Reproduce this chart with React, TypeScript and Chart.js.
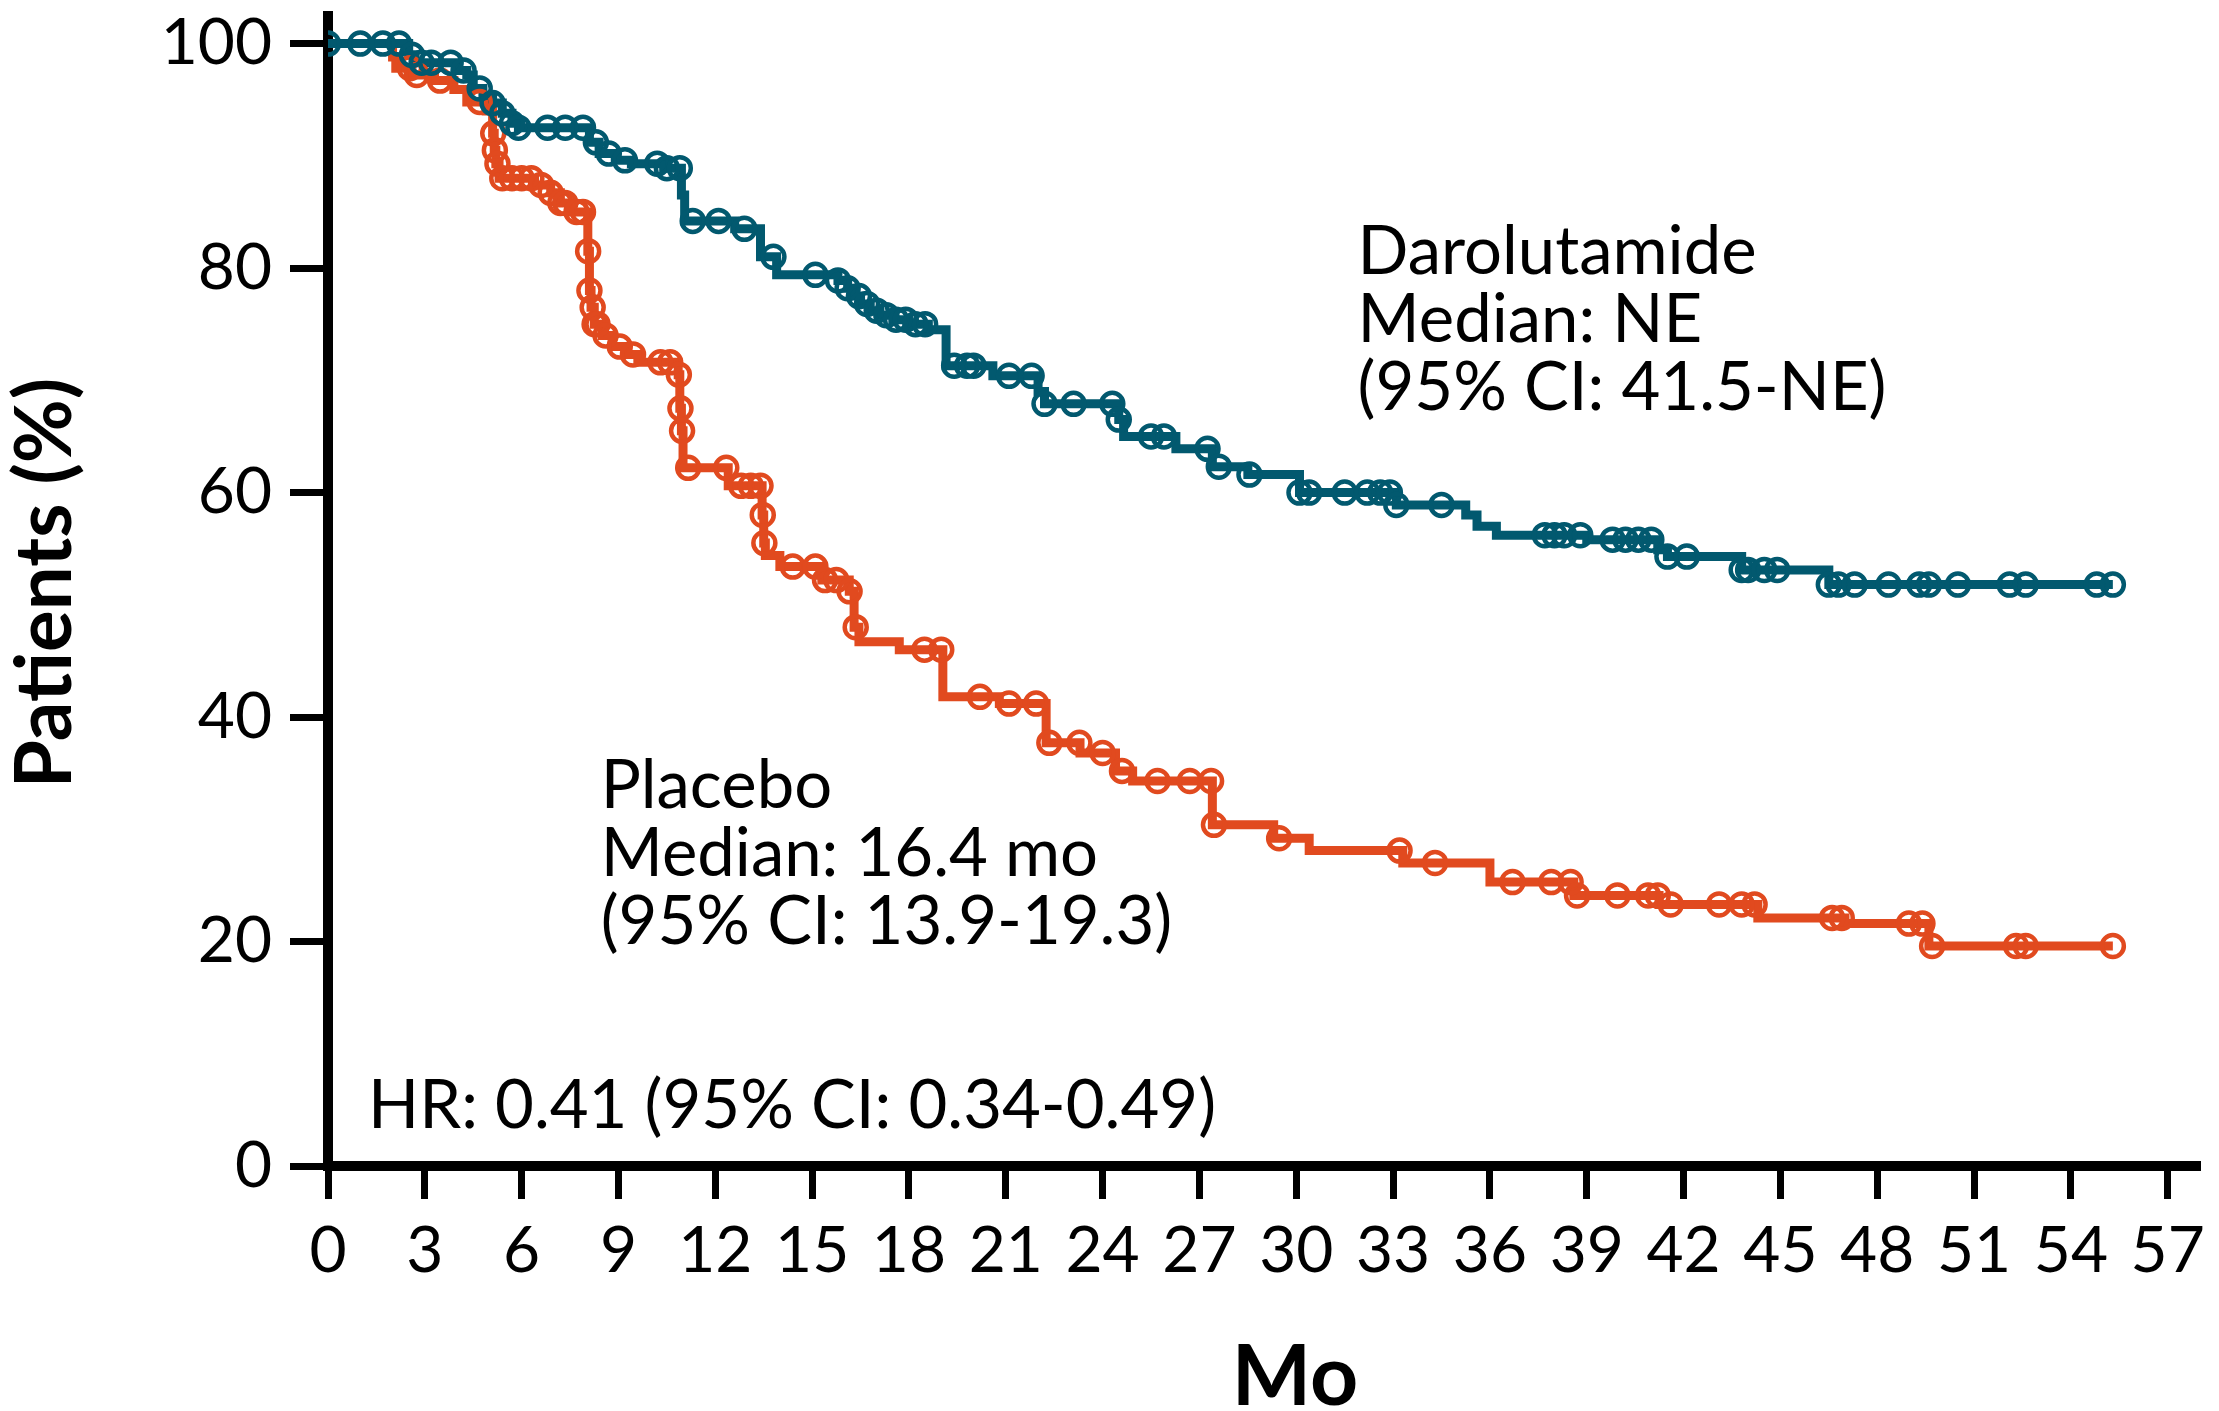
import React, { useEffect, useRef } from 'react';
import { Chart, registerables } from 'chart.js';

Chart.register(...registerables);

// ---------- data (months, % event-free) ----------
const xTickValues = [0, 3, 6, 9, 12, 15, 18, 21, 24, 27, 30, 33, 36, 39, 42, 45, 48, 51, 54, 57];
const yTickValues = [0, 20, 40, 60, 80, 100];

const daroTimes = [0, 2.5, 2.7, 4.0, 4.3, 4.5, 4.8, 5.1, 5.4, 5.7, 5.9, 8.1, 8.4, 8.9, 9.4, 10.4, 10.95, 11.05, 12.6, 13.4, 13.9, 15.8, 16.1, 16.3, 16.5, 16.8, 17.1, 17.5, 18.0, 18.6, 19.15, 20.6, 22.0, 22.2, 24.5, 24.65, 26.27, 27.4, 28.5, 30.1, 33.1, 35.25, 35.6, 36.2, 39.0, 41.2, 41.5, 43.8, 46.5, 55.3];
const daroSurv = [100, 99.0, 98.3, 97.6, 97.2, 96.0, 95.4, 94.7, 93.8, 92.9, 92.5, 91.2, 90.2, 89.6, 89.3, 88.9, 86.5, 84.2, 83.5, 81.0, 79.4, 78.9, 78.2, 77.5, 76.8, 76.2, 75.8, 75.4, 75.0, 74.5, 71.3, 70.4, 69.0, 67.9, 66.5, 65.0, 63.9, 62.3, 61.6, 60.0, 58.9, 58.0, 57.0, 56.2, 55.8, 54.9, 54.3, 53.1, 51.8, 51.8];
const daroCensor = [0, 1.0, 1.7, 2.2, 2.6, 2.9, 3.2, 3.8, 4.2, 4.7, 5.1, 5.4, 5.7, 5.9, 6.8, 7.35, 7.9, 8.3, 8.7, 9.2, 10.2, 10.5, 10.9, 11.3, 12.1, 12.9, 13.8, 15.1, 15.8, 16.1, 16.45, 16.7, 17.0, 17.3, 17.6, 17.9, 18.2, 18.5, 19.4, 19.8, 20.0, 21.1, 21.8, 22.2, 23.1, 24.3, 24.5, 25.5, 25.9, 27.25, 27.6, 28.55, 30.1, 30.4, 31.5, 32.2, 32.6, 32.9, 33.1, 34.5, 37.7, 38.0, 38.3, 38.8, 39.8, 40.2, 40.6, 41.0, 41.5, 42.1, 43.8, 44.0, 44.5, 44.9, 46.5, 46.8, 47.3, 48.35, 49.3, 49.6, 50.5, 52.1, 52.6, 54.8, 55.3];

const placTimes = [0, 2.0, 2.1, 2.6, 3.3, 3.9, 4.3, 4.9, 5.1, 5.15, 5.2, 5.3, 6.4, 6.9, 7.2, 7.5, 8.05, 8.1, 8.15, 8.25, 8.5, 8.8, 9.2, 9.6, 10.85, 10.9, 10.95, 11.0, 12.4, 13.45, 13.5, 13.55, 14.0, 15.3, 16.15, 16.3, 16.45, 17.7, 19.05, 20.8, 22.25, 23.3, 24.4, 24.93, 27.4, 29.3, 30.4, 33.3, 36.0, 38.6, 41.24, 44.3, 47.0, 49.6, 55.3];
const placSurv = [100, 98.8, 97.8, 97.2, 96.7, 95.9, 94.8, 94.0, 92.0, 90.5, 89.3, 88.0, 87.4, 86.7, 85.8, 85.0, 81.5, 78.0, 76.5, 75.0, 74.0, 73.0, 72.3, 71.6, 70.5, 67.5, 65.5, 62.2, 60.6, 58.0, 55.5, 54.4, 53.4, 52.2, 51.2, 48.0, 46.7, 46.0, 41.8, 41.2, 37.7, 36.8, 35.2, 34.3, 30.4, 29.2, 28.1, 27.0, 25.3, 24.1, 23.3, 22.1, 21.6, 19.6, 19.6];
const placCensor = [2.54, 2.75, 3.47, 4.7, 5.12, 5.17, 5.25, 5.4, 5.7, 6.0, 6.3, 6.6, 6.9, 7.2, 7.35, 7.7, 7.9, 8.06, 8.1, 8.2, 8.26, 8.35, 8.6, 9.04, 9.45, 10.3, 10.6, 10.87, 10.92, 10.97, 11.16, 12.34, 12.8, 13.1, 13.4, 13.47, 13.52, 14.4, 15.1, 15.4, 15.75, 16.16, 16.35, 18.48, 19.0, 20.2, 21.1, 21.94, 22.35, 23.28, 24.0, 24.6, 25.7, 26.7, 27.36, 27.45, 29.47, 33.2, 34.3, 36.7, 37.9, 38.5, 38.7, 39.95, 40.9, 41.2, 41.6, 43.1, 43.8, 44.2, 46.6, 46.9, 48.98, 49.4, 49.7, 52.3, 52.6, 55.3];

const daroLabel = ['Darolutamide', 'Median: NE', '(95% CI: 41.5-NE)'];
const placLabel = ['Placebo', 'Median: 16.4 mo', '(95% CI: 13.9-19.3)'];
const hrLabel = 'HR: 0.41 (95% CI: 0.34-0.49)';
const xTitle = 'Mo';
const yTitle = 'Patients (%)';

const TEAL = '#02596F';
const ORANGE = '#E14A1F';
const FONT = 'Lato, "Open Sans", sans-serif';

function survivalAt(times: number[], surv: number[], t: number): number {
  let v = surv[0];
  for (let i = 0; i < times.length; i++) {
    if (times[i] <= t + 1e-9) v = surv[i];
    else break;
  }
  return v;
}

const stepPoints = (times: number[], surv: number[]) => times.map((t, i) => ({ x: t, y: surv[i] }));
const censorPoints = (c: number[], times: number[], surv: number[]) =>
  c.map((t) => ({ x: t, y: survivalAt(times, surv, t) }));

const textPlugin = {
  id: 'kmText',
  afterDraw(chart: any) {
    const { ctx, scales } = chart;
    const xs = scales.x;
    const ys = scales.y;
    ctx.save();
    ctx.fillStyle = '#000';
    ctx.textBaseline = 'alphabetic';
    ctx.textAlign = 'left';
    ctx.font = `67px ${FONT}`;
    const lineGap = 68;
    const dx = xs.getPixelForValue(31.9);
    const dy = ys.getPixelForValue(79.5);
    daroLabel.forEach((s, i) => ctx.fillText(s, dx, dy + i * lineGap));
    const px = xs.getPixelForValue(8.45);
    const py = ys.getPixelForValue(31.9);
    placLabel.forEach((s, i) => ctx.fillText(s, px, py + i * lineGap));
    ctx.fillText(hrLabel, xs.getPixelForValue(1.24), ys.getPixelForValue(3.4));

    ctx.font = `bold 84px ${FONT}`;
    ctx.textAlign = 'center';
    ctx.fillText(xTitle, 1295, 1405);

    ctx.translate(71, 583);
    ctx.rotate(-Math.PI / 2);
    ctx.font = `bold 78px ${FONT}`;
    ctx.textAlign = 'center';
    ctx.fillText(yTitle, 0, 0);
    ctx.restore();
  },
};

export default function App() {
  const ref = useRef<HTMLCanvasElement>(null);

  useEffect(() => {
    const canvas = ref.current;
    if (!canvas) return;
    const chart = new Chart(canvas, {
      type: 'line',
      data: {
        datasets: [
          {
            type: 'scatter',
            label: 'Darolutamide censored',
            data: censorPoints(daroCensor, daroTimes, daroSurv),
            borderColor: TEAL,
            backgroundColor: 'rgba(0,0,0,0)',
            pointRadius: 11,
            pointBorderWidth: 4.5,
            pointBorderColor: TEAL,
            pointBackgroundColor: 'rgba(0,0,0,0)',
            showLine: false,
          } as any,
          {
            type: 'scatter',
            label: 'Placebo censored',
            data: censorPoints(placCensor, placTimes, placSurv),
            borderColor: ORANGE,
            backgroundColor: 'rgba(0,0,0,0)',
            pointRadius: 11,
            pointBorderWidth: 4.5,
            pointBorderColor: ORANGE,
            pointBackgroundColor: 'rgba(0,0,0,0)',
            showLine: false,
          } as any,
          {
            label: 'Darolutamide',
            data: stepPoints(daroTimes, daroSurv),
            borderColor: TEAL,
            borderWidth: 9,
            stepped: 'before',
            pointRadius: 0,
            fill: false,
          },
          {
            label: 'Placebo',
            data: stepPoints(placTimes, placSurv),
            borderColor: ORANGE,
            borderWidth: 9,
            stepped: 'before',
            pointRadius: 0,
            fill: false,
          },
        ],
      },
      options: {
        animation: false,
        responsive: false,
        devicePixelRatio: 1,
        parsing: false as any,
        layout: { padding: { left: 0, top: 12, right: 19, bottom: 0 } },
        plugins: { legend: { display: false }, tooltip: { enabled: false } },
        scales: {
          x: {
            type: 'linear',
            min: 0,
            max: 58,
            afterBuildTicks: (s: any) => {
              s.ticks = xTickValues.map((v) => ({ value: v }));
            },
            afterFit: (s: any) => {
              s.height = 245;
              s.paddingLeft = 0;
              s.paddingRight = 0;
            },
            ticks: {
              autoSkip: false,
              maxRotation: 0,
              color: '#000',
              padding: 14,
              font: { family: FONT, size: 64 },
              callback: (v: any) => String(v),
            },
            grid: { drawOnChartArea: false, drawTicks: true, tickLength: 33, tickWidth: 7, tickColor: '#000' },
            border: { display: true, width: 10, color: '#000' },
          },
          y: {
            type: 'linear',
            min: 0,
            max: 102.5,
            afterBuildTicks: (s: any) => {
              s.ticks = yTickValues.map((v) => ({ value: v }));
            },
            afterFit: (s: any) => {
              s.width = 328;
              s.paddingTop = 0;
              s.paddingBottom = 0;
            },
            ticks: {
              color: '#000',
              padding: 18,
              font: { family: FONT, size: 64 },
              callback: (v: any) => String(v),
            },
            grid: { drawOnChartArea: false, drawTicks: true, tickLength: 38, tickWidth: 7, tickColor: '#000' },
            border: { display: true, width: 10, color: '#000' },
          },
        },
      },
      plugins: [textPlugin],
    });
    return () => chart.destroy();
  }, []);

  return (
    <div style={{ position: 'absolute', left: 0, top: 0, width: 2219, height: 1411, background: '#fff' }}>
      <canvas ref={ref} width={2219} height={1411} style={{ width: 2219, height: 1411, display: 'block' }} />
    </div>
  );
}
